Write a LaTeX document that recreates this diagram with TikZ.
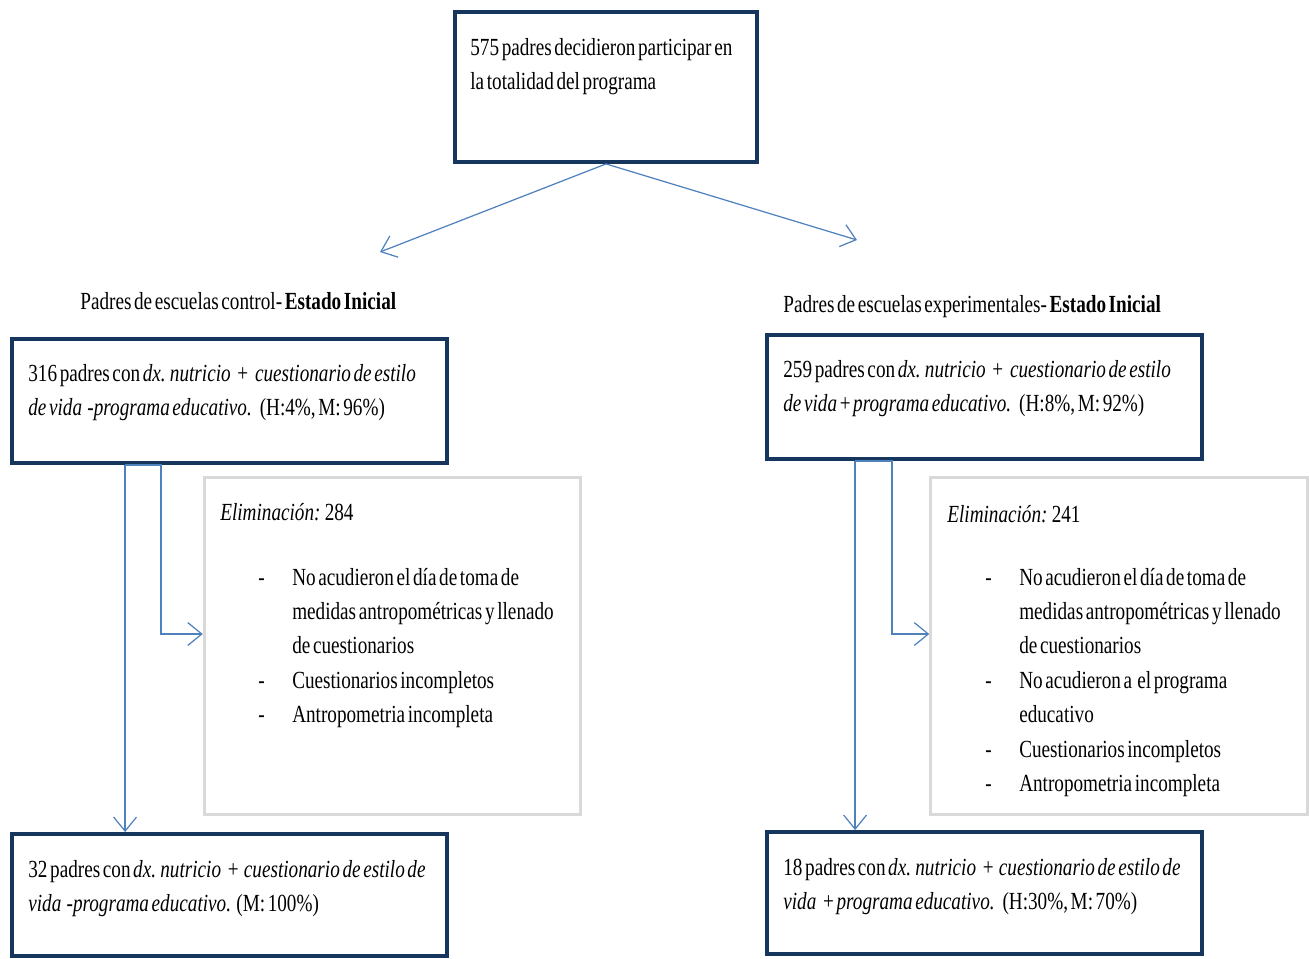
\documentclass[tikz,border=0pt]{standalone}
\usepackage{fontspec}
\setmainfont{Liberation Serif}[FakeStretch=0.78,WordSpace=0.55]
\usepackage{tikz}
\usetikzlibrary{arrows.meta,positioning,calc}
\definecolor{navy}{RGB}{23,54,93}
\definecolor{flowblue}{RGB}{79,129,189}
\definecolor{boxgray}{RGB}{217,217,217}
\newcommand{\boxlines}[1]{\begin{tabular}[t]{@{}l@{}}#1\end{tabular}}
\newcommand{\elimlist}[1]{\begin{tabular}[t]{@{}p{19.3pt}@{}l@{}}#1\end{tabular}}

\begin{document}
\begin{tikzpicture}[x=0.02cm,y=-0.02cm,>={Straight Barb[length=8pt,width=13pt]},
  mainbox/.style={draw=navy,line width=2.2pt,minimum width=8.7cm,minimum height=2.48cm,inner sep=0pt},
  elimbox/.style={draw=boxgray,line width=1.7pt,minimum width=7.53cm,minimum height=6.76cm,inner sep=0pt},
  txt/.style={anchor=base west,inner sep=0pt,font=\fontsize{14}{19.6}\selectfont},
  flow/.style={draw=flowblue,line width=0.7pt}]
\useasboundingbox (0,0) rectangle (1309,958);
\node[mainbox,minimum width=6.04cm,minimum height=3cm] (total) at (606,87) {};
\node[txt] (totaltxt) at (470,55) {\boxlines{575 padres decidieron participar en\\ la totalidad del programa}};
\coordinate (lt) at (380,252);
\coordinate (rt) at (857,240);
\draw[flow,->] (total.south) -- (lt);
\draw[flow,->] (total.south) -- (rt);

\node[txt] (ctrllab) at (80,309) {Padres de escuelas control- \textbf{Estado Inicial}};
\node[txt] (expelab) at (783,312) {Padres de escuelas experimentales- \textbf{Estado Inicial}};

\node[mainbox] (ctrl) at (229.5,401) {};
\node[txt] (ctrltxt) at (28,381) {\boxlines{316 padres con \textit{dx. nutricio} \,+\, \textit{cuestionario de estilo}\\
  \textit{de vida \ -programa educativo.}\ \ \ (H:4\%, M: 96\%)}};
\node[mainbox] (expe) at (984.5,397) {};
\node[txt] (expetxt) at (783,377) {\boxlines{259 padres con \textit{dx. nutricio} \,+\, \textit{cuestionario de estilo}\\
  \textit{de vida} + \textit{programa educativo.}\ \ \ (H:8\%, M: 92\%)}};

\node[elimbox] (elimc) at (392.5,646) {};
\node[txt] (elimctit) at (220,520) {\textit{Eliminación:} 284};
\node[txt] (elimclist) at (258,585) {\elimlist{-&No acudieron el día de toma de\\
  &medidas antropométricas y llenado\\
  &de cuestionarios\\
  -&Cuestionarios incompletos\\
  -&Antropometria incompleta}};
\node[elimbox] (elime) at (1119,646) {};
\node[txt] (elimetit) at (947,522) {\textit{Eliminación:} 241};
\node[txt] (elimelist) at (985,585) {\elimlist{-&No acudieron el día de toma de\\
  &medidas antropométricas y llenado\\
  &de cuestionarios\\
  -&No acudieron a \ el programa\\
  &educativo\\
  -&Cuestionarios incompletos\\
  -&Antropometria incompleta}};

\node[mainbox,minimum height=2.44cm] (finc) at (229.5,895) {};
\node[txt] (finctxt) at (28,877) {\boxlines{32 padres con \textit{dx. nutricio} \,+\ \ \textit{cuestionario de estilo de}\\
  \textit{vida \ -programa educativo.}\ \ (M: 100\%)}};
\node[mainbox,minimum height=2.44cm] (fine) at (984.5,893) {};
\node[txt] (finetxt) at (783,875) {\boxlines{18 padres con \textit{dx. nutricio} \,+\ \ \textit{cuestionario de estilo de}\\
  \textit{vida} \,+ \textit{programa educativo.}\ \ \ (H:30\%, M: 70\%)}};

\draw[flow,->] ([xshift=2.3cm]ctrl.south west) coordinate (cv) -- (cv |- finc.north);
\draw[flow,->] (cv) -- ++(36,0) |- ([yshift=0.24cm]elimc.west);
\draw[flow,->] ([xshift=1.8cm]expe.south west) coordinate (ev) -- (ev |- fine.north);
\draw[flow,->] (ev) -- ++(37,0) |- ([yshift=0.24cm]elime.west);
\end{tikzpicture}
\end{document}
